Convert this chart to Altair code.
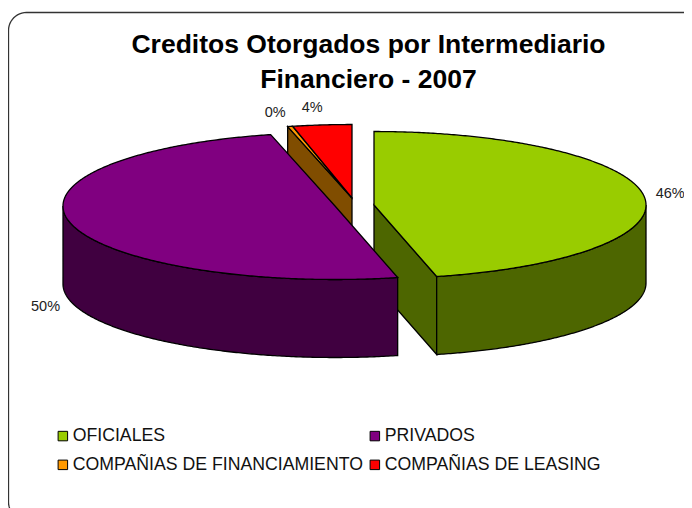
import math
import altair as alt
import pandas as pd

# ---- values ----
categories = ["OFICIALES", "PRIVADOS", "COMPAÑIAS DE FINANCIAMIENTO", "COMPAÑIAS DE LEASING"]
shares = [46.3, 49.9, 0.3, 3.5]
top_colors = ["#99CC00", "#800080", "#FF9900", "#FF0000"]
wall_colors = ["#4D6600", "#400040", "#804D00", "#800000"]
title_lines = ["Creditos Otorgados por Intermediario", "Financiero - 2007"]

# ---- pie geometry (page pixels) ----
RX, RY, DEPTH = 272, 73.5, 78
centers = [(374, 205), (335, 206), (352, 198), (352, 198)]
label_offsets = [(26, -2), (-25, 84), (-15, -13), (-10, -17)]


def rim(c, deg):
    a = math.radians(deg)
    return (c[0] + RX * math.sin(a), c[1] - RY * math.cos(a))


def arc(c, d0, d1, dy=0.0):
    n = max(2, int(abs(d1 - d0)) * 2)
    pts = [rim(c, d0 + (d1 - d0) * i / n) for i in range(n + 1)]
    return [(x, y + dy) for x, y in pts]


def feature(key, pts):
    ring = [list(p) for p in pts] + [list(pts[0])]
    return {"type": "Feature", "properties": {"key": key},
            "geometry": {"type": "Polygon", "coordinates": [ring]}}


edges = [0.0]
for s in shares:
    edges.append(edges[-1] + s * 3.6)

keys_wall = [c + " (lateral)" for c in categories]
top = {i: feature(categories[i], [centers[i]] + arc(centers[i], edges[i], edges[i + 1])) for i in range(4)}


def cut_face(i, deg):
    c = centers[i]
    p = rim(c, deg)
    return feature(keys_wall[i], [c, p, (p[0], p[1] + DEPTH), (c[0], c[1] + DEPTH)])


def outer_wall(i, d0, d1):
    return feature(keys_wall[i], arc(centers[i], d0, d1) + arc(centers[i], d1, d0, DEPTH))


# painter's order, back to front
features = [
    cut_face(2, edges[2]),
    top[2],
    top[3],
    cut_face(0, edges[1]),
    outer_wall(0, 90, edges[1]),
    top[0],
    outer_wall(1, edges[1], 270),
    top[1],
]

# frame: rounded rectangle running off the page on the right and bottom
L, T, R, B, CR = 8.5, 12.5, 706, 520, 18
frame = []
for cx, cy, a0 in [(L + CR, T + CR, 180), (R - CR, T + CR, 270), (R - CR, B - CR, 0), (L + CR, B - CR, 90)]:
    for k in range(13):
        a = math.radians(a0 + 90 * k / 12)
        frame.append([cx + CR * math.cos(a), cy + CR * math.sin(a)])
frame.append(frame[0])
frame_feature = {"type": "Feature", "properties": {"key": "frame"},
                 "geometry": {"type": "LineString", "coordinates": frame}}

labels = []
for i in range(4):
    mid = (edges[i] + edges[i + 1]) / 2
    p = rim(centers[i], mid)
    labels.append({"text": f"{shares[i]:.0f}%", "lon": p[0] + label_offsets[i][0], "lat": p[1] + label_offsets[i][1]})

PAD_TOP = 70
proj = alt.Projection(type="identity", scale=1, translate=[-8, -8 - PAD_TOP])

frame_layer = alt.Chart(alt.Data(values=[frame_feature])).mark_geoshape(
    filled=False, stroke="#333333", strokeWidth=1.3, clip=False
).project(**proj.to_dict())

pie = alt.Chart(alt.Data(values=features)).mark_geoshape(stroke="black", strokeWidth=1.3, clip=False).encode(
    color=alt.Color(
        "properties.key:N",
        scale=alt.Scale(domain=categories + keys_wall, range=top_colors + wall_colors),
        legend=alt.Legend(
            values=categories, title=None, orient="none", legendX=46, legendY=349, direction="horizontal",
            columns=2, columnPadding=3, rowPadding=10, symbolType="square", symbolSize=90,
            symbolStrokeColor="black", symbolStrokeWidth=1, labelFont="Liberation Sans",
            labelFontSize=17.7, labelColor="#111111", labelLimit=400, labelOffset=1,
        ),
    )
).project(**proj.to_dict())

text = alt.Chart(pd.DataFrame(labels)).mark_text(
    font="Liberation Sans", fontSize=14.5, color="#222222"
).encode(longitude="lon:Q", latitude="lat:Q", text="text:N").project(**proj.to_dict())

chart = alt.layer(frame_layer, pie, text).properties(
    width=676, height=430,
    padding={"left": 0, "top": PAD_TOP, "right": 0, "bottom": 0},
    autosize=alt.AutoSizeParams(type="none"),
    title=alt.TitleParams(
        text=title_lines, anchor="middle", font="Liberation Sans", fontSize=26.5,
        fontWeight="bold", color="black", lineHeight=35, dx=22.5, offset=-84,
    ),
).configure_view(stroke=None)

chart.save("out.html", embed_options={"renderer": "svg", "actions": False})
